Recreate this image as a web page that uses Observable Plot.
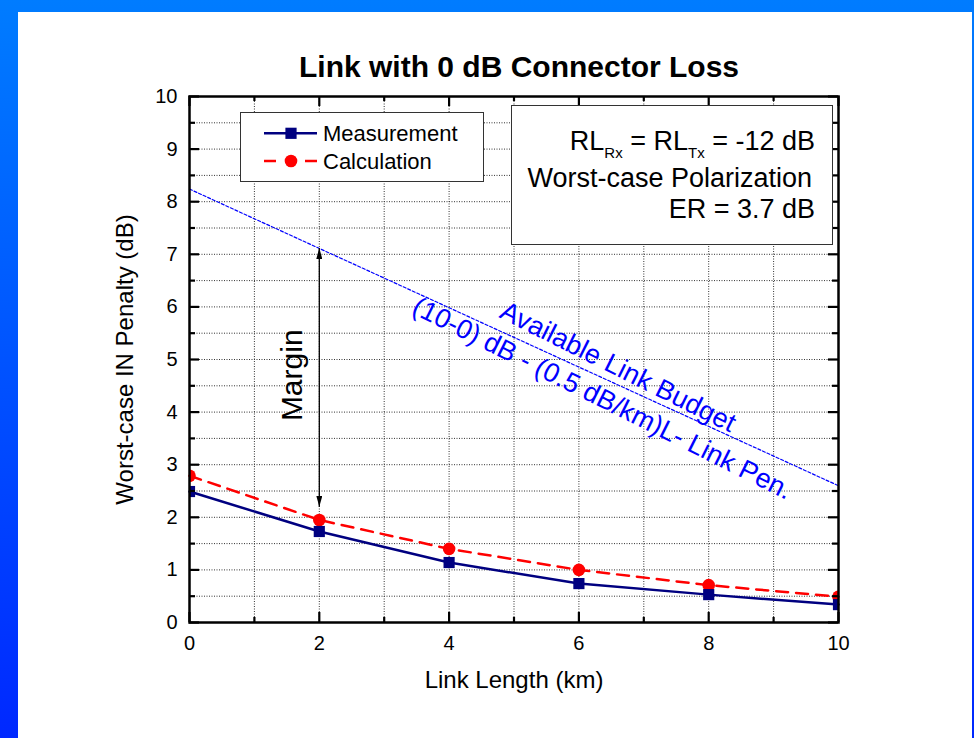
<!DOCTYPE html>
<html><head><meta charset="utf-8">
<script src="https://cdn.jsdelivr.net/npm/d3@7"></script>
<script src="https://cdn.jsdelivr.net/npm/@observablehq/plot@0.6"></script>
<style>
html,body{margin:0;padding:0;}
body{width:974px;height:738px;overflow:hidden;position:relative;background:linear-gradient(to bottom,#007cff,#0028ff);font-family:"Liberation Sans",Arial,Helvetica,sans-serif;}
#panel{position:absolute;left:18px;top:12px;width:954px;height:726px;background:#fff;}
#title{position:absolute;left:519px;top:52px;transform:translateX(-50%);font-weight:bold;font-size:30px;line-height:30px;white-space:nowrap;color:#000;}
#chart{position:absolute;left:0;top:85px;}
#legend{position:absolute;left:240px;top:112px;width:244px;height:70px;box-sizing:border-box;border:1.5px solid #333;background:#fff;}
#info{position:absolute;left:511px;top:105px;width:322px;height:140px;box-sizing:border-box;border:1.5px solid #333;background:#fff;}
#legend svg,#info svg{position:absolute;left:-1.5px;top:-1.5px;overflow:visible;}
</style>
</head><body>
<div id="panel"></div>
<div id="title"></div>
<div id="chart"></div>
<div id="legend"></div>
<div id="info"></div>
<script>
// ---- data ----
const titleText = "Link with 0 dB Connector Loss";
const xLabel = "Link Length (km)";
const yLabel = "Worst-case IN Penalty (dB)";
const lengthKm = [0, 2, 4, 6, 8, 10];
const measured = [2.49, 1.73, 1.14, 0.74, 0.53, 0.34];
const calculated = [2.79, 1.95, 1.40, 1.00, 0.71, 0.49];
const budgetKm = [0, 10];
const budgetDb = [8.24, 2.6];
const xMajorTicks = [0, 2, 4, 6, 8, 10];
const xMinorTicks = [1, 3, 5, 7, 9];
const yMajorTicks = [0, 1, 2, 3, 4, 5, 6, 7, 8, 9, 10];
const yMinorTicks = [0.5, 1.5, 2.5, 3.5, 4.5, 5.5, 6.5, 7.5, 8.5, 9.5];
const xGrid = [0, 1, 2, 3, 4, 5, 6, 7, 8, 9, 10];
const yGrid = [0.5, 1, 1.5, 2, 2.5, 3, 3.5, 4, 4.5, 5, 5.5, 6, 6.5, 7, 7.5, 8, 8.5, 9, 9.5];
const seriesNames = ["Measurement", "Calculation"];
const marginArrow = [{x: 2, from: 2.2, to: 7.12}];
const marginNote = [{x: 1.585, y: 4.70, text: "Margin"}];
const budgetNote = [{x: 6.5, y: 4.6, text: "Available Link Budget\n(10-0) dB - (0.5 dB/km)L- Link Pen."}];
const infoLines = ["Worst-case Polarization", "ER = 3.7 dB"];

// ---- layout ----
const W = 974, H = 653, mL = 189, mR = 136, mT = 11, mB = 116;
const plotW = W - mL - mR, plotH = H - mT - mB;
const FONT = '"Liberation Sans", Arial, Helvetica, sans-serif';

document.getElementById("title").textContent = titleText;

const measRows = lengthKm.map((x, i) => ({x, y: measured[i]}));
const calcRows = lengthKm.map((x, i) => ({x, y: calculated[i]}));
const budgetRows = budgetKm.map((x, i) => ({x, y: budgetDb[i]}));

function headMarker(color) {
  const m = d3.create("svg:marker")
    .attr("viewBox", "-11 -3 11 6")
    .attr("markerWidth", 11).attr("markerHeight", 6)
    .attr("markerUnits", "userSpaceOnUse")
    .attr("refX", 0).attr("refY", 0)
    .attr("orient", "auto-start-reverse");
  m.append("path").attr("d", "M-11,-3L0,0L-11,3Z").attr("fill", "#000").attr("stroke", "none");
  return m.node();
}

const chart = Plot.plot({
  width: W, height: H,
  marginLeft: mL, marginRight: mR, marginTop: mT, marginBottom: mB,
  x: {domain: [0, 10]},
  y: {domain: [0, 10]},
  style: {fontFamily: FONT, fontSize: "20px", color: "#000", background: "transparent", overflow: "visible"},
  marks: [
    Plot.ruleX(xGrid, {x: d => d, stroke: "#333", strokeWidth: 1, strokeDasharray: "1,1.5"}),
    Plot.ruleY(yGrid, {y: d => d, stroke: "#333", strokeWidth: 1, strokeDasharray: "1,1.5"}),
    Plot.line(budgetRows, {x: "x", y: "y", stroke: "#0000ff", strokeWidth: 1.2, strokeDasharray: "3,2"}),
    Plot.line(calcRows, {x: "x", y: "y", stroke: "#ff0000", strokeWidth: 2.5, strokeDasharray: "12,8"}),
    Plot.line(measRows, {x: "x", y: "y", stroke: "#000080", strokeWidth: 2.5}),
    Plot.dot(calcRows, {x: "x", y: "y", r: 6.3, fill: "#ff0000", stroke: "none", clip: true}),
    Plot.dot(measRows, {x: "x", y: "y", r: 6.3, symbol: "square", fill: "#000080", stroke: "none", clip: true}),
    Plot.link(marginArrow, {x1: "x", x2: "x", y1: "from", y2: "to", stroke: "#000", strokeWidth: 1.3, markerStart: headMarker, markerEnd: headMarker}),
    Plot.text(marginNote, {x: "x", y: "y", text: "text", rotate: -90, fontSize: 30, fill: "#000", textAnchor: "middle", lineAnchor: "middle"}),
    Plot.text(budgetNote, {x: "x", y: "y", text: "text", rotate: 26.5, fontSize: 27, fill: "#0000ff", lineHeight: 1.3, textAnchor: "middle", lineAnchor: "middle"}),
    // inward ticks
    Plot.tickX(xMajorTicks, {x: d => d, insetTop: plotH - 10, strokeWidth: 2.2}),
    Plot.tickX(xMajorTicks, {x: d => d, insetBottom: plotH - 10, strokeWidth: 2.2}),
    Plot.tickX(xMinorTicks, {x: d => d, insetTop: plotH - 5, strokeWidth: 2.2}),
    Plot.tickX(xMinorTicks, {x: d => d, insetBottom: plotH - 5, strokeWidth: 2.2}),
    Plot.tickY(yMajorTicks, {y: d => d, insetRight: plotW - 10, strokeWidth: 2.2}),
    Plot.tickY(yMajorTicks, {y: d => d, insetLeft: plotW - 10, strokeWidth: 2.2}),
    Plot.tickY(yMinorTicks, {y: d => d, insetRight: plotW - 6, strokeWidth: 2.2}),
    Plot.tickY(yMinorTicks, {y: d => d, insetLeft: plotW - 6, strokeWidth: 2.2}),
    Plot.axisX({ticks: xMajorTicks, tickSize: 0, tickPadding: 13, label: null, fontSize: 20, tickFormat: d => String(d)}),
    Plot.axisY({ticks: yMajorTicks, tickSize: 0, tickPadding: 12, label: null, fontSize: 20, tickFormat: d => String(d)}),
    Plot.frame({stroke: "#000", strokeWidth: 2.5}),
    Plot.text([xLabel], {text: d => d, frameAnchor: "bottom", dy: 58, fontSize: 24, fill: "#000", textAnchor: "middle", lineAnchor: "middle"}),
    Plot.text([yLabel], {text: d => d, frameAnchor: "left", dx: -64, rotate: -90, fontSize: 24, fill: "#000", textAnchor: "middle", lineAnchor: "middle"})
  ]
});
document.getElementById("chart").appendChild(chart);

// ---- legend ----
const lg = d3.select("#legend").append("svg").attr("width", 244).attr("height", 70)
  .style("font-family", FONT);
lg.append("line").attr("x1", 24).attr("x2", 77).attr("y1", 21.3).attr("y2", 21.3)
  .attr("stroke", "#000080").attr("stroke-width", 2.5);
lg.append("rect").attr("x", 51 - 5.6).attr("y", 21.3 - 5.6).attr("width", 11.2).attr("height", 11.2).attr("fill", "#000080");
lg.append("text").attr("x", 83).attr("y", 28.5).attr("font-size", 22).text(seriesNames[0]);
lg.append("line").attr("x1", 24).attr("x2", 36).attr("y1", 49).attr("y2", 49).attr("stroke", "#ff0000").attr("stroke-width", 2.5);
lg.append("line").attr("x1", 65).attr("x2", 77).attr("y1", 49).attr("y2", 49).attr("stroke", "#ff0000").attr("stroke-width", 2.5);
lg.append("circle").attr("cx", 51).attr("cy", 49).attr("r", 6.3).attr("fill", "#ff0000");
lg.append("text").attr("x", 83).attr("y", 56.5).attr("font-size", 22).text(seriesNames[1]);

// ---- info box ----
const ib = d3.select("#info").append("svg").attr("width", 322).attr("height", 140)
  .style("font-family", FONT);
const t1 = ib.append("text").attr("x", 304).attr("y", 45).attr("font-size", 27).attr("text-anchor", "end");
t1.append("tspan").text("RL");
t1.append("tspan").attr("font-size", 15).attr("dy", 8).text("Rx");
t1.append("tspan").attr("dy", -8).text(" = RL");
t1.append("tspan").attr("font-size", 15).attr("dy", 8).text("Tx");
t1.append("tspan").attr("dy", -8).text(" = -12 dB");
ib.append("text").attr("x", 301).attr("y", 81.7).attr("font-size", 27).attr("text-anchor", "end").text(infoLines[0]);
ib.append("text").attr("x", 304).attr("y", 113.3).attr("font-size", 27).attr("text-anchor", "end").text(infoLines[1]);
</script>
</body></html>
